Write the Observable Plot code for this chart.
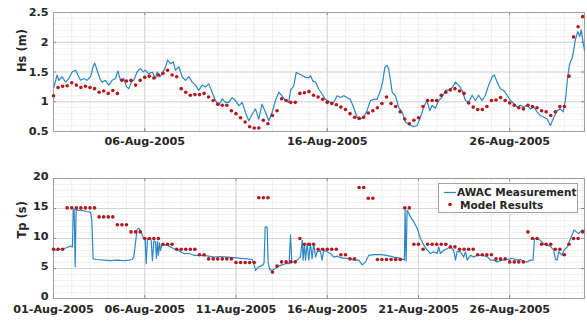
<!DOCTYPE html>
<html>
<head>
<meta charset="utf-8">
<script src="https://cdn.jsdelivr.net/npm/d3@7"></script>
<script src="https://cdn.jsdelivr.net/npm/@observablehq/plot@0.6"></script>
<style>
  html, body { margin: 0; padding: 0; background: #fff; }
  #chart { position: relative; width: 587px; height: 322px; overflow: hidden; }
  #chart svg { display: block; }
  #legend { position: absolute; left: 438px; top: 183px; width: 140px; height: 30px;
            background: #fff; border: 1px solid #a0a0a0; box-sizing: border-box; }
</style>
</head>
<body>
<div id="chart"></div>
<script>
// ---------- DATA (days since 01-Aug-2005 00:00 UTC) ----------
const startDate = "2005-08-01";
const xEndDay = 29.1;

const hsTickLabels = [0.5, 1, 1.5, 2, 2.5];
const tpTickLabels = [0, 5, 10, 15, 20];
const topDateTicks = ["2005-08-06", "2005-08-16", "2005-08-26"];
const bottomDateTicks = ["2005-08-01", "2005-08-06", "2005-08-11", "2005-08-16", "2005-08-21", "2005-08-26"];

// AWAC measurement, Hs (m)
const hsLineDays = [0.02,0.20,0.29,0.47,0.66,0.84,1.02,1.21,1.33,1.48,1.66,1.84,2.03,2.17,2.26,2.39,2.54,2.67,2.85,3.03,3.21,3.40,3.53,3.67,3.85,4.00,4.13,4.26,4.40,4.58,4.77,4.91,5.04,5.22,5.41,5.59,5.68,5.83,5.95,6.14,6.26,6.41,6.56,6.68,6.87,7.05,7.23,7.42,7.60,7.78,7.96,8.15,8.33,8.51,8.69,8.88,9.06,9.24,9.42,9.61,9.79,9.97,10.16,10.34,10.52,10.70,10.89,11.07,11.25,11.43,11.62,11.80,11.98,12.16,12.35,12.53,12.71,12.89,12.99,13.17,13.30,13.44,13.63,13.81,13.99,14.08,14.21,14.36,14.54,14.72,14.90,15.18,15.36,15.54,15.73,15.91,16.09,16.27,16.45,16.64,16.82,17.00,17.18,17.37,17.55,17.73,17.92,18.05,18.16,18.28,18.37,18.47,18.56,18.74,18.92,19.11,19.29,19.47,19.74,19.93,20.11,20.29,20.47,20.62,20.75,20.93,21.11,21.30,21.48,21.66,21.85,22.03,22.21,22.39,22.58,22.76,22.94,23.12,23.30,23.49,23.67,23.85,24.04,24.16,24.31,24.49,24.67,24.86,25.04,25.22,25.41,25.59,25.77,25.96,26.14,26.32,26.50,26.68,26.87,27.05,27.23,27.42,27.60,27.78,27.93,28.05,28.18,28.29,28.42,28.51,28.60,28.73,28.84,28.92,29.03,29.10];
const hsLineValues = [1.24,1.45,1.36,1.42,1.33,1.39,1.50,1.53,1.45,1.36,1.39,1.36,1.42,1.59,1.65,1.53,1.39,1.33,1.36,1.28,1.36,1.39,1.52,1.36,1.39,1.25,1.22,1.33,1.36,1.50,1.56,1.50,1.53,1.47,1.50,1.39,1.50,1.42,1.47,1.59,1.70,1.64,1.67,1.53,1.59,1.42,1.36,1.42,1.33,1.28,1.19,1.28,1.25,1.30,1.16,1.02,0.94,1.05,0.99,0.99,1.07,1.02,0.93,0.99,0.82,0.68,0.79,0.88,0.71,0.96,0.82,0.68,0.82,1.02,1.16,1.10,1.02,0.99,1.19,1.27,1.49,1.47,1.44,1.41,1.40,1.44,1.35,1.33,1.21,1.13,1.04,0.99,0.99,1.10,1.07,1.10,1.07,1.04,0.90,0.74,0.71,0.74,0.85,1.02,1.04,1.04,1.19,1.35,1.58,1.61,1.55,1.35,1.16,1.10,0.90,0.82,0.66,0.62,0.58,0.60,0.74,0.91,1.02,0.85,0.94,0.89,1.02,1.08,1.19,1.20,1.24,1.33,1.28,1.19,1.02,0.99,1.11,1.02,1.11,1.02,1.11,1.28,1.42,1.45,1.33,1.22,1.19,1.11,1.02,0.97,0.91,0.94,0.91,0.94,0.88,0.91,0.83,0.77,0.74,0.71,0.60,0.74,0.85,0.88,0.83,1.02,1.42,1.64,1.73,1.87,2.04,2.18,2.10,2.21,1.98,1.87];

// Model results (6-hourly from 01-Aug 00:00), Hs (m)
const modelStepHours = 6;
const hsModelValues = [
1.10,1.24,1.26,1.27,1.32,1.28,1.24,1.26,1.24,1.22,
1.16,1.18,1.14,1.19,1.14,1.36,1.35,1.36,1.28,1.36,
1.41,1.43,1.40,1.45,1.48,1.53,1.45,1.42,1.22,1.16,
1.11,1.12,1.12,1.14,1.08,1.02,0.96,0.94,0.94,0.85,
0.80,0.73,0.66,0.58,0.56,0.56,0.69,0.63,0.77,0.85,
1.05,1.02,0.99,0.99,1.14,1.15,1.17,1.11,1.08,1.04,
0.99,0.97,0.95,0.91,0.87,0.80,0.74,0.72,0.74,0.81,
0.85,0.90,0.97,1.08,0.97,0.92,0.83,0.71,0.63,0.69,
0.73,0.92,1.02,1.02,1.02,1.11,1.16,1.20,1.22,1.18,
1.14,0.98,0.91,0.87,0.87,0.92,1.02,1.03,1.07,1.02,
0.98,0.94,0.90,0.88,0.94,0.92,0.90,0.85,0.83,0.77,
0.83,0.92,0.92,1.43,2.09,2.26,2.43];

// AWAC measurement, Tp (s)
const tpLineDays = [0.02,0.29,0.57,0.75,0.93,1.04,1.08,1.13,1.19,1.24,1.33,1.57,1.81,2.03,2.10,2.17,2.39,2.76,3.12,3.49,3.85,4.13,4.31,4.40,4.49,4.58,4.68,4.80,4.91,5.02,5.08,5.15,5.35,5.42,5.50,5.59,5.64,5.70,5.75,5.81,5.86,5.94,6.05,6.23,6.41,6.59,6.78,6.96,7.14,7.42,7.69,8.05,8.42,8.79,9.15,9.52,9.88,10.25,10.61,10.89,10.98,11.07,11.20,11.34,11.49,11.54,11.60,11.71,11.76,11.85,11.98,12.16,12.35,12.53,12.71,12.91,12.99,13.06,13.26,13.35,13.53,13.63,13.68,13.75,13.81,13.90,13.99,14.08,14.17,14.26,14.36,14.45,14.63,14.72,14.81,15.00,15.18,15.36,15.55,15.73,15.91,16.19,16.46,16.73,16.92,17.10,17.28,17.55,17.92,18.28,18.65,19.01,19.23,19.27,19.32,19.38,19.47,19.56,19.74,19.93,20.11,20.29,20.47,20.66,20.84,21.02,21.11,21.20,21.39,21.57,21.75,21.93,22.03,22.12,22.30,22.48,22.58,22.67,22.85,23.03,23.21,23.49,23.76,23.95,24.13,24.31,24.58,24.86,25.13,25.41,25.59,25.77,25.95,26.14,26.28,26.36,26.50,26.68,26.87,27.05,27.23,27.41,27.51,27.60,27.69,27.78,27.88,27.97,28.15,28.34,28.52,28.66,28.78,28.97,29.09];
const tpLineValues = [8.06,8.17,8.33,8.5,8.72,8.61,14.7,14.9,5.3,14.9,14.7,14.7,14.5,14.4,13.0,6.6,6.5,6.4,6.3,6.4,6.3,6.4,6.5,6.9,9.2,11.5,11.7,11.1,10.2,10.0,5.8,10.0,9.8,6.3,9.6,9.4,6.7,9.5,7.2,9.3,8.0,9.0,8.9,8.9,8.6,8.3,8.1,7.8,7.5,7.5,7.2,7.2,7.1,6.9,7.0,6.9,6.8,6.7,6.6,6.5,5.8,4.7,5.2,5.4,5.6,6.0,11.9,11.9,6.0,4.8,4.7,5.0,5.4,5.6,5.8,5.8,10.6,6.0,6.2,6.4,6.9,9.7,6.4,9.2,6.4,9.2,6.4,9.2,6.6,9.2,6.9,7.8,7.95,6.4,8.05,7.8,7.5,6.9,7.05,6.8,6.7,6.7,6.4,6.4,5.6,6.1,7.2,7.3,7.3,7.2,6.9,6.7,6.4,14.8,6.2,14.7,14.2,13.6,12.8,11.7,10.0,8.9,8.1,7.5,7.8,7.5,8.6,7.5,8.05,8.3,8.6,8.05,6.4,7.8,7.8,6.9,7.8,6.4,7.2,6.9,7.2,7.2,7.0,6.4,6.4,6.1,6.4,6.5,6.7,6.4,6.5,6.1,6.1,6.4,6.4,10.0,10.0,9.7,9.1,8.9,8.7,8.1,6.5,6.4,7.8,7.5,7.2,8.05,8.6,10.0,11.4,11.1,10.8,11.4,11.3];

// Model results (6-hourly), Tp (s)
const tpModelValues = [
8.2,8.2,8.2,15.1,15.1,15.1,15.1,15.1,15.1,15.1,
13.6,13.6,13.6,13.6,12.3,12.3,12.3,11.1,11.1,11.1,
10.0,10.0,10.0,10.0,9.05,9.05,9.05,8.2,8.2,8.2,
8.2,8.2,7.3,7.3,6.6,6.6,6.6,6.6,6.6,6.6,
6.0,6.0,6.0,6.0,6.0,16.8,16.8,16.8,4.4,5.4,
6.1,6.1,6.1,6.1,10.0,9.05,9.05,9.05,8.2,8.2,
8.2,8.2,8.2,7.3,7.3,6.6,6.6,18.5,18.5,16.7,
16.7,6.5,6.5,6.5,6.5,6.5,6.5,15.1,15.1,9.05,
9.05,8.2,9.05,9.05,9.05,9.05,9.05,8.6,8.6,8.2,
8.2,8.2,8.2,7.3,7.3,7.3,7.3,6.6,6.6,6.6,
6.1,6.1,6.1,6.1,11.1,10.0,10.0,9.05,9.05,9.05,
8.2,8.2,7.3,9.05,10.0,10.0,11.1];

const seriesNames = ["AWAC Measurement", "Model Results"];
const yLabels = ["Hs (m)", "Tp (s)"];

// ---------- BUILD ----------
const t0 = new Date(startDate + "T00:00:00Z").getTime();
const toDate = d => new Date(t0 + d * 864e5);
const xDomain = [toDate(0), toDate(xEndDay)];
const hsLine = hsLineDays.map((d, i) => ({t: toDate(d), v: hsLineValues[i]}));
const tpLine = tpLineDays.map((d, i) => ({t: toDate(d), v: tpLineValues[i]}));
const hsModel = hsModelValues.map((v, i) => ({t: new Date(t0 + i * modelStepHours * 36e5), v}));
const tpModel = tpModelValues.map((v, i) => ({t: new Date(t0 + i * modelStepHours * 36e5), v}));
const parseDay = s => new Date(s + "T00:00:00Z");
const topTicks = topDateTicks.map(parseDay);
const botTicks = bottomDateTicks.map(parseDay);
const minorDays = d3.utcDay.range(toDate(0), toDate(xEndDay));
const fmt = d3.utcFormat("%d-%b-%Y");

const FONT = "'DejaVu Sans', sans-serif";
const LINE_COLOR = "#2b87c3";
const DOT_COLOR = "#b3161c";
const W = 587, ML = 53, MR = 3;
const FW = W - ML - MR;

function panel({height, mt, mb, yDomain, yTicks, yMinor, xTicks, xPad, yDy, line, model, ylabel}) {
  const FH = height - mt - mb;
  return Plot.plot({
    width: W, height, marginLeft: ML, marginRight: MR, marginTop: mt, marginBottom: mb,
    x: {type: "utc", domain: xDomain},
    y: {domain: yDomain},
    style: {fontFamily: FONT, fontSize: "11.2px", fontWeight: "bold", color: "#262626", background: "#fff", overflow: "visible"},
    marks: [
      Plot.gridX(minorDays, {stroke: "#ececec", strokeOpacity: 1, strokeWidth: 0.8}),
      Plot.gridY(yMinor, {stroke: "#ececec", strokeOpacity: 1, strokeWidth: 0.8}),
      Plot.gridX(xTicks, {stroke: "#d4d4d4", strokeOpacity: 1}),
      Plot.gridY(yTicks, {stroke: "#d4d4d4", strokeOpacity: 1}),
      Plot.axisX({ticks: xTicks, tickSize: 0, tickPadding: xPad, tickFormat: fmt, label: null, fontWeight: "bold"}),
      Plot.axisY({ticks: yTicks, tickSize: 0, tickPadding: 5, dy: yDy, tickFormat: d3.format("~g"), label: null, fontWeight: "bold"}),
      Plot.tickX(xTicks, {x: d => d, insetTop: FH - 3, stroke: "#8a8a8a"}),
      Plot.tickX(xTicks, {x: d => d, insetBottom: FH - 3, stroke: "#8a8a8a"}),
      Plot.tickY(yTicks, {y: d => d, insetRight: FW - 3, stroke: "#8a8a8a"}),
      Plot.tickY(yTicks, {y: d => d, insetLeft: FW - 3, stroke: "#8a8a8a"}),
      Plot.frame({stroke: "#9c9c9c"}),
      Plot.line(line, {x: "t", y: "v", stroke: LINE_COLOR, strokeWidth: 1.2}),
      Plot.dot(model, {x: "t", y: "v", r: 1.8, fill: DOT_COLOR, stroke: null}),
      Plot.text([ylabel], {frameAnchor: "left", dx: -31, rotate: -90, fontSize: 11.5, fontWeight: "bold", fill: "#262626"})
    ]
  });
}

const chart = document.getElementById("chart");
chart.appendChild(panel({
  height: 155, mt: 12, mb: 24, yDomain: [0.5, 2.5], yTicks: hsTickLabels,
  yMinor: d3.range(5, 26).map(k => k / 10), xTicks: topTicks, xPad: 6, yDy: 0,
  line: hsLine, model: hsModel, ylabel: yLabels[0]
}));
chart.appendChild(panel({
  height: 167, mt: 23, mb: 24, yDomain: [0, 20], yTicks: tpTickLabels,
  yMinor: d3.range(0, 21), xTicks: botTicks, xPad: 7, yDy: -2,
  line: tpLine, model: tpModel, ylabel: yLabels[1]
}));

// legend
const leg = document.createElement("div");
leg.id = "legend";
leg.innerHTML = `<svg width="138" height="28" style="font-family:${FONT};font-weight:bold;font-size:10.5px;fill:#262626">
  <line x1="5" x2="17" y1="8.5" y2="8.5" stroke="${LINE_COLOR}" stroke-width="1.2"></line>
  <text x="18" y="12.3">${seriesNames[0]}</text>
  <circle cx="11" cy="20.5" r="1.8" fill="${DOT_COLOR}"></circle>
  <text x="21" y="24.5">${seriesNames[1]}</text>
</svg>`;
chart.appendChild(leg);
</script>
</body>
</html>
